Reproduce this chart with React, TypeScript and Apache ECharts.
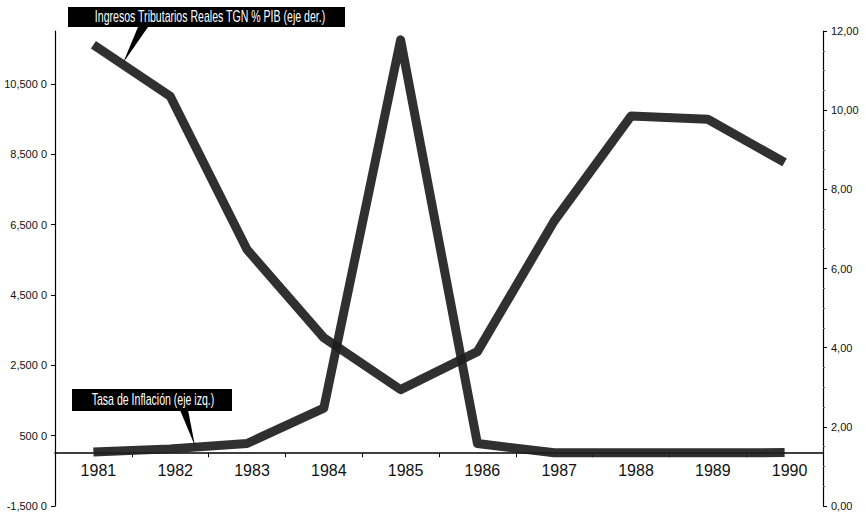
import React, { useEffect, useRef } from 'react';
import * as echarts from 'echarts';

const years = ['1981', '1982', '1983', '1984', '1985', '1986', '1987', '1988', '1989', '1990'];
const inflacion = [32.1, 123.5, 275.6, 1281.3, 11749.6, 276.3, 14.6, 16.0, 15.2, 17.1];
const ingresos = [11.65, 10.35, 6.48, 4.25, 2.94, 3.9, 7.2, 9.85, 9.77, 8.68];
const leftTicks = [-1500, 500, 2500, 4500, 6500, 8500, 10500];
const rightTicks = [0, 2, 4, 6, 8, 10, 12];
const labelIngresos = 'Ingresos Tributarios Reales TGN % PIB (eje der.)';
const labelInflacion = 'Tasa de Inflación (eje izq.)';

const FONT = '"Liberation Sans Narrow", "Liberation Sans", sans-serif';

export default function App() {
  const ref = useRef<HTMLDivElement>(null);
  useEffect(() => {
    if (!ref.current) return;
    const chart = echarts.init(ref.current, undefined, { renderer: 'svg' });
    const lineColor = '#1e1e1e';
    chart.setOption({
      animation: false,
      backgroundColor: '#ffffff',
      grid: { left: 55, right: 42, top: 31, bottom: 9, containLabel: false, outerBoundsMode: 'none' },
      xAxis: {
        type: 'category',
        data: years,
        boundaryGap: true,
        axisLine: { onZero: true, lineStyle: { color: '#000', width: 1.5 } },
        axisTick: { show: true, length: 4, alignWithLabel: false, lineStyle: { color: '#000' } },
        axisLabel: { color: '#111', fontSize: 16, fontFamily: FONT, margin: -44, padding: [0, 0, 0, 10] },
        splitLine: { show: false },
      },
      yAxis: [
        {
          type: 'value',
          min: -1500,
          max: 12000,
          position: 'left',
          axisLine: { show: true, onZero: false, lineStyle: { color: '#000', width: 1.2 } },
          axisTick: { show: true, length: 4, customValues: leftTicks, lineStyle: { color: '#000' } },
          axisLabel: {
            customValues: leftTicks,
            color: '#111',
            fontSize: 11,
            fontFamily: FONT,
            margin: 8,
            formatter: (v: number) => v.toLocaleString('en-US') + ' 0',
          },
          splitLine: { show: false },
        },
        {
          type: 'value',
          min: 0,
          max: 12,
          interval: 2,
          position: 'right',
          axisLine: { show: true, onZero: false, lineStyle: { color: '#000', width: 1.2 } },
          axisTick: { show: true, length: 4, lineStyle: { color: '#000' } },
          minorTick: { show: true, splitNumber: 4, length: 2, lineStyle: { color: '#666' } },
          axisLabel: {
            customValues: rightTicks,
            color: '#111',
            fontSize: 11,
            fontFamily: FONT,
            margin: 8,
            formatter: (v: number) => v.toFixed(2).replace('.', ','),
          },
          splitLine: { show: false },
        },
      ],
      series: [
        {
          name: labelInflacion,
          type: 'line',
          yAxisIndex: 0,
          data: inflacion,
          symbol: 'none',
          lineStyle: { color: lineColor, width: 9, join: 'round', cap: 'butt', opacity: 0.92 },
          z: 3,
        },
        {
          name: labelIngresos,
          type: 'line',
          yAxisIndex: 1,
          data: ingresos,
          symbol: 'none',
          lineStyle: { color: lineColor, width: 9, join: 'round', cap: 'butt', opacity: 0.92 },
          z: 3,
        },
      ],
      graphic: [
        { type: 'polygon', shape: { points: [[138, 27], [148, 27], [123, 63]] }, style: { fill: '#000' }, z: 10 },
        { type: 'rect', shape: { x: 68, y: 7, width: 277, height: 20 }, style: { fill: '#000' }, z: 10 },
        {
          type: 'text', x: 210, y: 17, z: 11, scaleX: 0.66,
          style: { text: labelIngresos, fill: '#fff', fontSize: 16, fontFamily: FONT, align: 'center', verticalAlign: 'middle' },
        },
        { type: 'polygon', shape: { points: [[180, 410], [188, 410], [195, 446]] }, style: { fill: '#000' }, z: 10 },
        { type: 'rect', shape: { x: 72, y: 389, width: 160, height: 22 }, style: { fill: '#000' }, z: 10 },
        {
          type: 'text', x: 153, y: 400, z: 11, scaleX: 0.66,
          style: { text: labelInflacion, fill: '#fff', fontSize: 16, fontFamily: FONT, align: 'center', verticalAlign: 'middle' },
        },
      ],
    });
    return () => chart.dispose();
  }, []);
  return <div ref={ref} style={{ position: 'fixed', left: 0, top: 0, width: 865, height: 515 }} />;
}
